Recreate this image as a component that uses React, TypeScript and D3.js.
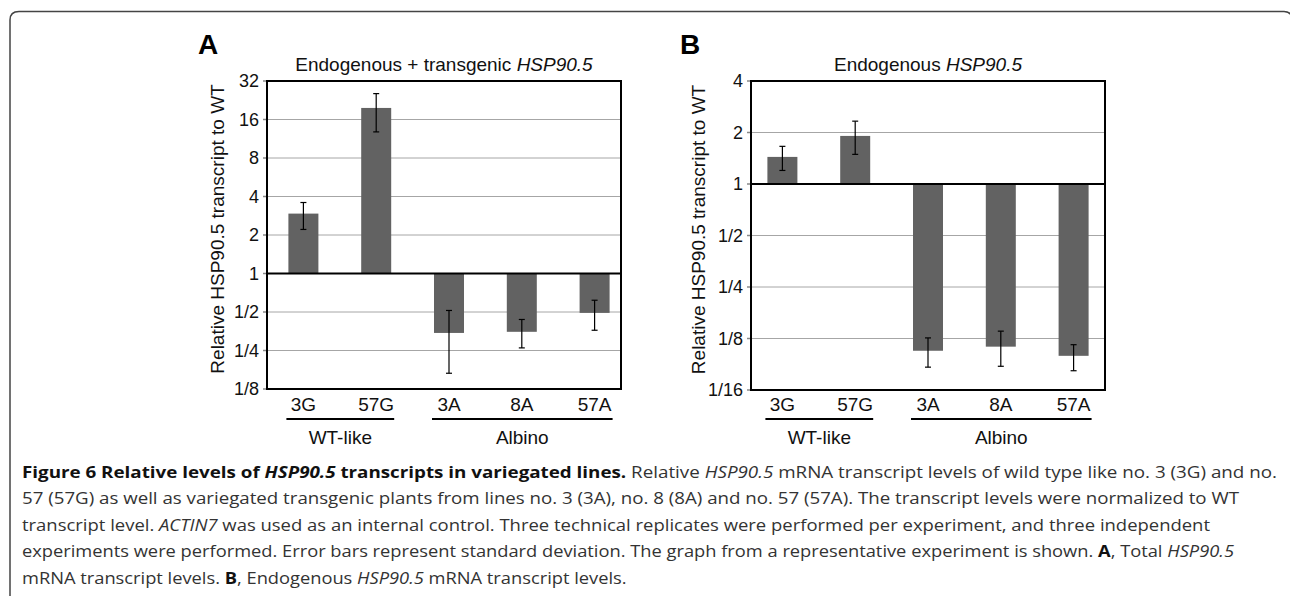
import React, { useEffect, useRef } from "react";
import * as d3 from "d3";

const categories = ["3G", "57G", "3A", "8A", "57A"];
const totalMean = [2.94, 19.7, 0.343, 0.35, 0.492];
const totalLow = [2.21, 12.8, 0.166, 0.262, 0.36];
const totalHigh = [3.59, 25.5, 0.514, 0.437, 0.618];
const endoMean = [1.44, 1.91, 0.106, 0.112, 0.099];
const endoLow = [1.2, 1.49, 0.085, 0.086, 0.081];
const endoHigh = [1.66, 2.33, 0.126, 0.138, 0.115];
const ticksA = [1 / 8, 1 / 4, 1 / 2, 1, 2, 4, 8, 16, 32];
const tickLabelsA = ["1/8", "1/4", "1/2", "1", "2", "4", "8", "16", "32"];
const ticksB = [1 / 16, 1 / 8, 1 / 4, 1 / 2, 1, 2, 4];
const tickLabelsB = ["1/16", "1/8", "1/4", "1/2", "1", "2", "4"];
const groupNames = ["WT-like", "Albino"];
const groupFrom = ["3G", "3A"];
const groupTo = ["57G", "57A"];

type Seg = { t: string; b?: boolean; i?: boolean };
const captionLines: Seg[][] = [
  [
    { t: "Figure 6 Relative levels of ", b: true },
    { t: "HSP90.5", b: true, i: true },
    { t: " transcripts in variegated lines.", b: true },
    { t: " Relative " },
    { t: "HSP90.5", i: true },
    { t: " mRNA transcript levels of wild type like no. 3 (3G) and no." },
  ],
  [{ t: "57 (57G) as well as variegated transgenic plants from lines no. 3 (3A), no. 8 (8A) and no. 57 (57A). The transcript levels were normalized to WT" }],
  [
    { t: "transcript level. " },
    { t: "ACTIN7", i: true },
    { t: " was used as an internal control. Three technical replicates were performed per experiment, and three independent" },
  ],
  [
    { t: "experiments were performed. Error bars represent standard deviation. The graph from a representative experiment is shown. " },
    { t: "A", b: true },
    { t: ", Total " },
    { t: "HSP90.5", i: true },
  ],
  [
    { t: "mRNA transcript levels. " },
    { t: "B", b: true },
    { t: ", Endogenous " },
    { t: "HSP90.5", i: true },
    { t: " mRNA transcript levels." },
  ],
];
const captionEnds = [1277, 1239, 1210, 1234, 0];

const FONT = "'Liberation Sans', Arial, sans-serif";

export default function App() {
  const ref = useRef<SVGSVGElement>(null);
  useEffect(() => {
    const svg = d3.select(ref.current);
    svg.selectAll("*").remove();

    // figure border
    svg
      .append("path")
      .attr("d", "M10,600 V20 Q10,11.5 19,11.5 H1284 Q1289,11.5 1291,15")
      .attr("fill", "none")
      .attr("stroke", "#444")
      .attr("stroke-width", 1.5);

    const panels = [
      {
        letter: "A", lx: 198, x0: 267, x1: 621, y0: 81, y1: 389, bandOff: [0, 364],
        domain: [1 / 8, 32], ticks: ticksA, labels: tickLabelsA,
        mean: totalMean, low: totalLow, high: totalHigh,
        title: ["Endogenous + transgenic ", "HSP90.5"], ylx: 217,
      },
      {
        letter: "B", lx: 680, x0: 751, x1: 1105, y0: 81, y1: 390, bandOff: [-5, 359],
        domain: [1 / 16, 4], ticks: ticksB, labels: tickLabelsB,
        mean: endoMean, low: endoLow, high: endoHigh,
        title: ["Endogenous ", "HSP90.5"], ylx: 698,
      },
    ];

    panels.forEach((p) => {
      const g = svg.append("g");
      const y = d3.scaleLog().base(2).domain(p.domain).range([p.y1, p.y0]);
      const x = d3
        .scaleBand()
        .domain(categories)
        .range([p.x0 + p.bandOff[0], p.x0 + p.bandOff[1]])
        .paddingInner(0.588)
        .paddingOuter(0.294);

      g.selectAll(".grid")
        .data(p.ticks.filter((t) => t !== 1))
        .join("line")
        .attr("x1", p.x0)
        .attr("x2", p.x1)
        .attr("y1", (d) => y(d))
        .attr("y2", (d) => y(d))
        .attr("stroke", "#a6a6a6")
        .attr("stroke-width", 1);

      g.selectAll(".tk")
        .data(p.ticks)
        .join("line")
        .attr("x1", p.x0 - 4)
        .attr("x2", p.x0)
        .attr("y1", (d) => y(d))
        .attr("y2", (d) => y(d))
        .attr("stroke", "#888")
        .attr("stroke-width", 1.5);

      g.selectAll(".tl")
        .data(p.ticks)
        .join("text")
        .attr("x", p.x0 - 8)
        .attr("y", (d) => y(d))
        .attr("dy", "0.36em")
        .attr("text-anchor", "end")
        .attr("font-family", FONT)
        .attr("font-size", 18)
        .attr("fill", "#111")
        .text((d, i) => p.labels[i]);

      const data = categories.map((c, i) => ({ c, m: p.mean[i], lo: p.low[i], hi: p.high[i] }));
      g.selectAll(".bar")
        .data(data)
        .join("rect")
        .attr("x", (d) => x(d.c)!)
        .attr("width", x.bandwidth())
        .attr("y", (d) => Math.min(y(d.m), y(1)))
        .attr("height", (d) => Math.abs(y(d.m) - y(1)))
        .attr("fill", "#626262");

      const eg = g.selectAll(".eb").data(data).join("g");
      eg.append("line")
        .attr("x1", (d) => x(d.c)! + x.bandwidth() / 2)
        .attr("x2", (d) => x(d.c)! + x.bandwidth() / 2)
        .attr("y1", (d) => y(d.lo))
        .attr("y2", (d) => y(d.hi))
        .attr("stroke", "#000")
        .attr("stroke-width", 1.2);
      ["lo", "hi"].forEach((k) => {
        eg.append("line")
          .attr("x1", (d) => x(d.c)! + x.bandwidth() / 2 - 3)
          .attr("x2", (d) => x(d.c)! + x.bandwidth() / 2 + 3)
          .attr("y1", (d: any) => y(d[k]))
          .attr("y2", (d: any) => y(d[k]))
          .attr("stroke", "#000")
          .attr("stroke-width", 1.2);
      });

      g.append("line")
        .attr("x1", p.x0)
        .attr("x2", p.x1)
        .attr("y1", y(1))
        .attr("y2", y(1))
        .attr("stroke", "#000")
        .attr("stroke-width", 2);

      g.append("rect")
        .attr("x", p.x0)
        .attr("y", p.y0)
        .attr("width", p.x1 - p.x0)
        .attr("height", p.y1 - p.y0)
        .attr("fill", "none")
        .attr("stroke", "#000")
        .attr("stroke-width", 2);

      g.selectAll(".cl")
        .data(categories)
        .join("text")
        .attr("x", (d) => x(d)! + x.bandwidth() / 2)
        .attr("y", 411)
        .attr("text-anchor", "middle")
        .attr("font-family", FONT)
        .attr("font-size", 19)
        .attr("fill", "#111")
        .text((d) => d);

      groupNames.forEach((name, gi) => {
        const a = x(groupFrom[gi])! - 2;
        const b = x(groupTo[gi])! + x.bandwidth() + 3;
        g.append("line")
          .attr("x1", a)
          .attr("x2", b)
          .attr("y1", 419)
          .attr("y2", 419)
          .attr("stroke", "#000")
          .attr("stroke-width", 2);
        g.append("text")
          .attr("x", (a + b) / 2)
          .attr("y", 444)
          .attr("text-anchor", "middle")
          .attr("font-family", FONT)
          .attr("font-size", 19)
          .attr("fill", "#111")
          .text(name);
      });

      const tt = g
        .append("text")
        .attr("x", (p.x0 + p.x1) / 2)
        .attr("y", 71)
        .attr("text-anchor", "middle")
        .attr("font-family", FONT)
        .attr("font-size", 19)
        .attr("fill", "#111");
      tt.append("tspan").text(p.title[0]);
      tt.append("tspan").attr("font-style", "italic").text(p.title[1]);

      g.append("text")
        .attr("x", p.lx)
        .attr("y", 54)
        .attr("font-family", FONT)
        .attr("font-weight", "bold")
        .attr("font-size", 28)
        .attr("fill", "#000")
        .text(p.letter);

      g.append("text")
        .attr("transform", `translate(${p.ylx},${(p.y0 + p.y1) / 2 - 6}) rotate(-90)`)
        .attr("text-anchor", "middle")
        .attr("dy", "0.36em")
        .attr("font-family", FONT)
        .attr("font-size", 19)
        .attr("fill", "#111")
        .text("Relative HSP90.5 transcript to WT");
    });

    // caption
    const cap = svg.append("g");
    const texts: any[] = [];
    captionLines.forEach((line, li) => {
      const t = cap
        .append("text")
        .attr("x", 22)
        .attr("y", 477.5 + li * 26.5)
        .attr("font-family", "'Open Sans', 'Noto Sans', sans-serif")
        .attr("font-size", 16)
        .attr("fill", "#333");
      line.forEach((s) => {
        t.append("tspan")
          .attr("font-weight", s.b ? "bold" : null)
          .attr("font-style", s.i ? "italic" : null)
          .attr("fill", s.b ? "#111" : null)
          .text(s.t);
      });
      texts.push(t);
    });
    const w4 = (texts[3].node() as SVGTextElement).getComputedTextLength();
    const factor = (captionEnds[3] - 22) / w4;
    texts.forEach((t, i) => {
      const nat = (t.node() as SVGTextElement).getComputedTextLength();
      const target = captionEnds[i] ? captionEnds[i] - 22 : nat * factor;
      t.attr("textLength", target).attr("lengthAdjust", "spacingAndGlyphs");
    });
  }, []);

  return (
    <svg
      ref={ref}
      width={1290}
      height={596}
      style={{ position: "absolute", left: 0, top: 0, background: "#fff" }}
    />
  );
}
